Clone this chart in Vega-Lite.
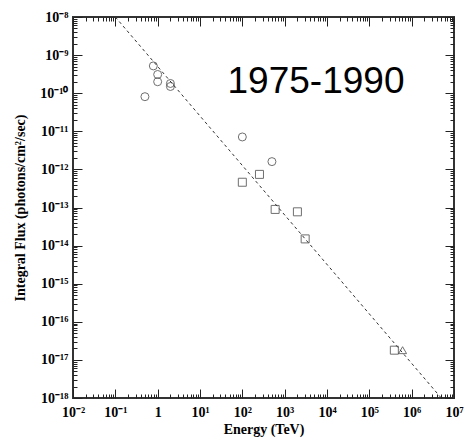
{
  "$schema": "https://vega.github.io/schema/vega-lite/v6.json",
  "width": 381,
  "height": 381,
  "autosize": {"type": "none"},
  "padding": {"left": 73, "top": 17, "right": 11, "bottom": 41},
  "background": "white",
  "data": {
    "values": [
      {"kind": "point", "energy": 0.79, "flux": 5.2e-10, "series": "circle"},
      {"kind": "point", "energy": 1.0, "flux": 3.1e-10, "series": "circle"},
      {"kind": "point", "energy": 1.0, "flux": 2.0e-10, "series": "circle"},
      {"kind": "point", "energy": 2.0, "flux": 1.8e-10, "series": "circle"},
      {"kind": "point", "energy": 2.0, "flux": 1.5e-10, "series": "circle"},
      {"kind": "point", "energy": 0.5, "flux": 8.1e-11, "series": "circle"},
      {"kind": "point", "energy": 100, "flux": 7.1e-12, "series": "circle"},
      {"kind": "point", "energy": 500, "flux": 1.6e-12, "series": "circle"},
      {"kind": "point", "energy": 100, "flux": 4.6e-13, "series": "square"},
      {"kind": "point", "energy": 254, "flux": 7.4e-13, "series": "square"},
      {"kind": "point", "energy": 596, "flux": 8.9e-14, "series": "square"},
      {"kind": "point", "energy": 2000, "flux": 7.7e-14, "series": "square"},
      {"kind": "point", "energy": 3050, "flux": 1.5e-14, "series": "square"},
      {"kind": "point", "energy": 390000, "flux": 1.8e-17, "series": "square"},
      {"kind": "point", "energy": 610000, "flux": 1.8e-17, "series": "triangle"},
      {"kind": "fit", "energy": 0.1, "flux": 1e-8},
      {"kind": "fit", "energy": 5000000, "flux": 1e-18},
      {"kind": "label", "energy": 5500, "flux": 1e-10, "text": "1975-1990"}
    ]
  },
  "config": {
    "view": {"stroke": "#333", "strokeWidth": 2},
    "axis": {"grid": false, "domain": false}
  },
  "resolve": {"axis": {"x": "independent", "y": "independent"}},
  "layer": [
    {
      "transform": [{"filter": "datum.kind == 'fit'"}],
      "mark": {"type": "line", "color": "#333", "strokeWidth": 1, "strokeDash": [3, 3]},
      "encoding": {
        "x": {
          "field": "energy", "type": "quantitative",
          "scale": {"type": "log", "domain": [0.01, 10000000], "nice": false},
          "axis": {
            "orient": "bottom",
            "ticks": false,
            "values": [0.01, 0.1, 1, 10, 100, 1000, 10000, 100000, 1000000, 10000000],
            "labelExpr": "datum.value == 1 ? '1' : '10' + (round(log(datum.value)/LN10) < 0 ? '⁻' : '') + (abs(round(log(datum.value)/LN10)) >= 10 ? '⁰¹²³⁴⁵⁶⁷⁸⁹'[floor(abs(round(log(datum.value)/LN10))/10)] : '') + '⁰¹²³⁴⁵⁶⁷⁸⁹'[abs(round(log(datum.value)/LN10)) % 10]",
            "labelFont": "Liberation Serif",
            "labelFontWeight": "bold",
            "labelFontSize": 14,
            "labelColor": "black",
            "labelPadding": 7,
            "labelFlush": false,
            "title": "Energy (TeV)",
            "titleFont": "Liberation Serif",
            "titleFontWeight": "bold",
            "titleFontSize": 14,
            "titleColor": "black",
            "titlePadding": 3
          }
        },
        "y": {
          "field": "flux", "type": "quantitative",
          "scale": {"type": "log", "domain": [1e-18, 1e-8], "nice": false},
          "axis": {
            "orient": "left",
            "ticks": false,
            "values": [1e-18, 1e-17, 1e-16, 1e-15, 1e-14, 1e-13, 1e-12, 1e-11, 1e-10, 1e-9, 1e-8],
            "labelExpr": "'10' + (round(log(datum.value)/LN10) < 0 ? '⁻' : '') + (abs(round(log(datum.value)/LN10)) >= 10 ? '⁰¹²³⁴⁵⁶⁷⁸⁹'[floor(abs(round(log(datum.value)/LN10))/10)] : '') + '⁰¹²³⁴⁵⁶⁷⁸⁹'[abs(round(log(datum.value)/LN10)) % 10]",
            "labelFont": "Liberation Serif",
            "labelFontWeight": "bold",
            "labelFontSize": 14,
            "labelColor": "black",
            "labelPadding": 5,
            "labelFlush": false,
            "title": "Integral Flux (photons/cm²/sec)",
            "titleFont": "Liberation Serif",
            "titleFontWeight": "bold",
            "titleFontSize": 14,
            "titleColor": "black",
            "titlePadding": 12
          }
        }
      }
    },
    {
      "transform": [{"filter": "datum.kind == 'point'"}],
      "mark": {"type": "point", "filled": false, "color": "#333", "strokeWidth": 1, "size": 64},
      "encoding": {
        "x": {
          "field": "energy", "type": "quantitative",
          "scale": {"type": "log", "domain": [0.01, 10000000], "nice": false},
          "axis": {
            "orient": "bottom", "labels": false, "title": null, "tickColor": "#222",
            "tickSize": {"condition": {"test": "datum.value == 0.01 || datum.value == 0.1 || datum.value == 1 || datum.value == 10 || datum.value == 100 || datum.value == 1000 || datum.value == 10000 || datum.value == 100000 || datum.value == 1000000 || datum.value == 10000000", "value": -9}, "value": -4},
            "values": [0.01,0.02,0.03,0.04,0.05,0.06,0.07,0.08,0.09,0.1,0.2,0.3,0.4,0.5,0.6,0.7,0.8,0.9,1,2,3,4,5,6,7,8,9,10,20,30,40,50,60,70,80,90,100,200,300,400,500,600,700,800,900,1000,2000,3000,4000,5000,6000,7000,8000,9000,10000,20000,30000,40000,50000,60000,70000,80000,90000,100000,200000,300000,400000,500000,600000,700000,800000,900000,1000000,2000000,3000000,4000000,5000000,6000000,7000000,8000000,9000000,10000000]
          }
        },
        "y": {
          "field": "flux", "type": "quantitative",
          "scale": {"type": "log", "domain": [1e-18, 1e-8], "nice": false},
          "axis": {
            "orient": "left", "labels": false, "title": null, "tickColor": "#222",
            "tickSize": {"condition": {"test": "datum.value == 1e-18 || datum.value == 1e-17 || datum.value == 1e-16 || datum.value == 1e-15 || datum.value == 1e-14 || datum.value == 1e-13 || datum.value == 1e-12 || datum.value == 1e-11 || datum.value == 1e-10 || datum.value == 1e-9 || datum.value == 1e-8", "value": -9}, "value": -4},
            "values": [1e-18,2e-18,3e-18,4e-18,5e-18,6e-18,7e-18,8e-18,9e-18,1e-17,2e-17,3e-17,4e-17,5e-17,6e-17,7e-17,8e-17,9e-17,1e-16,2e-16,3e-16,4e-16,5e-16,6e-16,7e-16,8e-16,9e-16,1e-15,2e-15,3e-15,4e-15,5e-15,6e-15,7e-15,8e-15,9e-15,1e-14,2e-14,3e-14,4e-14,5e-14,6e-14,7e-14,8e-14,9e-14,1e-13,2e-13,3e-13,4e-13,5e-13,6e-13,7e-13,8e-13,9e-13,1e-12,2e-12,3e-12,4e-12,5e-12,6e-12,7e-12,8e-12,9e-12,1e-11,2e-11,3e-11,4e-11,5e-11,6e-11,7e-11,8e-11,9e-11,1e-10,2e-10,3e-10,4e-10,5e-10,6e-10,7e-10,8e-10,9e-10,1e-9,2e-9,3e-9,4e-9,5e-9,6e-9,7e-9,8e-9,9e-9,1e-8]
          }
        },
        "shape": {
          "field": "series", "type": "nominal",
          "scale": {"domain": ["circle", "square", "triangle"], "range": ["circle", "square", "triangle-up"]},
          "legend": null
        }
      }
    },
    {
      "transform": [{"filter": "datum.kind == 'label'"}],
      "mark": {"type": "text", "font": "Liberation Sans", "fontSize": 37, "color": "black", "align": "center", "baseline": "alphabetic"},
      "encoding": {
        "x": {
          "field": "energy", "type": "quantitative",
          "scale": {"type": "log", "domain": [0.01, 10000000], "nice": false},
          "axis": {
            "orient": "top", "labels": false, "title": null, "tickColor": "#222",
            "tickSize": {"condition": {"test": "datum.value == 0.01 || datum.value == 0.1 || datum.value == 1 || datum.value == 10 || datum.value == 100 || datum.value == 1000 || datum.value == 10000 || datum.value == 100000 || datum.value == 1000000 || datum.value == 10000000", "value": -9}, "value": -4},
            "values": [0.01,0.02,0.03,0.04,0.05,0.06,0.07,0.08,0.09,0.1,0.2,0.3,0.4,0.5,0.6,0.7,0.8,0.9,1,2,3,4,5,6,7,8,9,10,20,30,40,50,60,70,80,90,100,200,300,400,500,600,700,800,900,1000,2000,3000,4000,5000,6000,7000,8000,9000,10000,20000,30000,40000,50000,60000,70000,80000,90000,100000,200000,300000,400000,500000,600000,700000,800000,900000,1000000,2000000,3000000,4000000,5000000,6000000,7000000,8000000,9000000,10000000]
          }
        },
        "y": {
          "field": "flux", "type": "quantitative",
          "scale": {"type": "log", "domain": [1e-18, 1e-8], "nice": false},
          "axis": {
            "orient": "right", "labels": false, "title": null, "tickColor": "#222",
            "tickSize": {"condition": {"test": "datum.value == 1e-18 || datum.value == 1e-17 || datum.value == 1e-16 || datum.value == 1e-15 || datum.value == 1e-14 || datum.value == 1e-13 || datum.value == 1e-12 || datum.value == 1e-11 || datum.value == 1e-10 || datum.value == 1e-9 || datum.value == 1e-8", "value": -9}, "value": -4},
            "values": [1e-18,2e-18,3e-18,4e-18,5e-18,6e-18,7e-18,8e-18,9e-18,1e-17,2e-17,3e-17,4e-17,5e-17,6e-17,7e-17,8e-17,9e-17,1e-16,2e-16,3e-16,4e-16,5e-16,6e-16,7e-16,8e-16,9e-16,1e-15,2e-15,3e-15,4e-15,5e-15,6e-15,7e-15,8e-15,9e-15,1e-14,2e-14,3e-14,4e-14,5e-14,6e-14,7e-14,8e-14,9e-14,1e-13,2e-13,3e-13,4e-13,5e-13,6e-13,7e-13,8e-13,9e-13,1e-12,2e-12,3e-12,4e-12,5e-12,6e-12,7e-12,8e-12,9e-12,1e-11,2e-11,3e-11,4e-11,5e-11,6e-11,7e-11,8e-11,9e-11,1e-10,2e-10,3e-10,4e-10,5e-10,6e-10,7e-10,8e-10,9e-10,1e-9,2e-9,3e-9,4e-9,5e-9,6e-9,7e-9,8e-9,9e-9,1e-8]
          }
        },
        "text": {"field": "text", "type": "nominal"}
      }
    }
  ]
}
